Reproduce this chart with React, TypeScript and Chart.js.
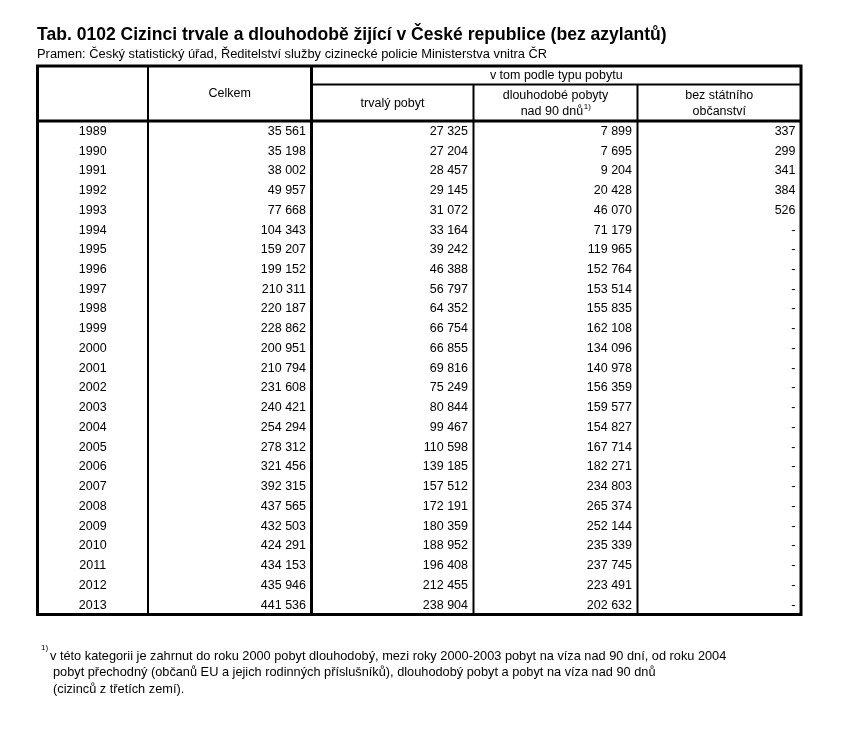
import React, { useEffect, useRef } from "react";
import { Chart, registerables } from "chart.js";

Chart.register(...registerables);

// ---------- DATA ----------
const TITLE = "Tab. 0102 Cizinci trvale a dlouhodobě žijící v České republice (bez azylantů)";
const SUBTITLE = "Pramen: Český statistický úřad, Ředitelství služby cizinecké policie Ministerstva vnitra ČR";

const YEARS = [
  "1989", "1990", "1991", "1992", "1993", "1994", "1995", "1996", "1997", "1998",
  "1999", "2000", "2001", "2002", "2003", "2004", "2005", "2006", "2007", "2008",
  "2009", "2010", "2011", "2012", "2013",
];

const CELKEM = [
  35561, 35198, 38002, 49957, 77668, 104343, 159207, 199152, 210311, 220187,
  228862, 200951, 210794, 231608, 240421, 254294, 278312, 321456, 392315, 437565,
  432503, 424291, 434153, 435946, 441536,
];

const TRVALY_POBYT = [
  27325, 27204, 28457, 29145, 31072, 33164, 39242, 46388, 56797, 64352,
  66754, 66855, 69816, 75249, 80844, 99467, 110598, 139185, 157512, 172191,
  180359, 188952, 196408, 212455, 238904,
];

const DLOUHODOBE_POBYTY = [
  7899, 7695, 9204, 20428, 46070, 71179, 119965, 152764, 153514, 155835,
  162108, 134096, 140978, 156359, 159577, 154827, 167714, 182271, 234803, 265374,
  252144, 235339, 237745, 223491, 202632,
];

const BEZ_STATNIHO_OBCANSTVI: (number | null)[] = [
  337, 299, 341, 384, 526, null, null, null, null, null,
  null, null, null, null, null, null, null, null, null, null,
  null, null, null, null, null,
];

const HEADER_TOTAL = "Celkem";
const HEADER_GROUP = "v tom podle typu pobytu";
const HEADER_TRVALY = ["trvalý pobyt"];
const HEADER_DLOUHODOBE = ["dlouhodobé pobyty", "nad 90 dnů"];
const HEADER_BEZ = ["bez státního", "občanství"];
const NOTE_MARK = "1)";

const FOOTNOTE = [
  "v této kategorii je zahrnut do roku 2000 pobyt dlouhodobý, mezi roky 2000-2003 pobyt na víza nad 90 dní, od roku 2004",
  "pobyt přechodný (občanů EU a jejich rodinných příslušníků), dlouhodobý pobyt a pobyt na víza nad 90 dnů",
  "(cizinců z třetích zemí).",
];

// ---------- LAYOUT ----------
const W = 847;
const H = 742;
const FONT = '"Liberation Sans", Arial, Helvetica, sans-serif';
const TABLE_LEFT = 37.5;
const TABLE_RIGHT = 801;
const TABLE_TOP = 66;
const HEADER_MID_LINE = 84.5;
const BODY_TOP = 121;
const BODY_BOTTOM = 614.5;
// column edges in table units (0 = left border)
const COL_EDGES = [0, 110.5, 274, 436, 600, 763.5];
const CELL_PAD = 5.5;

const fmt = (v: number | null) =>
  v === null ? "-" : String(v).replace(/\B(?=(\d{3})+(?!\d))/g, " ");

const tablePlugin = {
  id: "tablePlugin",
  afterDraw(chart: any) {
    const ctx: CanvasRenderingContext2D = chart.ctx;
    const xs = chart.scales.x;
    const { top, bottom } = chart.chartArea;
    const ex = COL_EDGES.map((e) => xs.getPixelForValue(e));
    const L = ex[0];
    const R = ex[ex.length - 1];
    ctx.save();
    ctx.fillStyle = "#000";
    ctx.strokeStyle = "#000";

    const fitFont = (text: string, weight: string, target: number) => {
      ctx.font = `${weight} 20px ${FONT}`;
      const w = ctx.measureText(text).width;
      return (20 * target) / w;
    };

    // title & subtitle
    ctx.textAlign = "left";
    ctx.textBaseline = "alphabetic";
    const ts = fitFont(TITLE, "bold", 630);
    ctx.font = `bold ${ts}px ${FONT}`;
    ctx.fillText(TITLE, 37, 39.5);
    const ss = fitFont(SUBTITLE, "normal", 511);
    ctx.font = `${ss}px ${FONT}`;
    ctx.fillText(SUBTITLE, 37, 57.5);

    // lines
    const line = (x1: number, y1: number, x2: number, y2: number, w: number) => {
      ctx.lineWidth = w;
      ctx.beginPath();
      ctx.moveTo(x1, y1);
      ctx.lineTo(x2, y2);
      ctx.stroke();
    };
    // header lines
    line(ex[2], HEADER_MID_LINE, R, HEADER_MID_LINE, 2);
    line(L, top, R, top, 3);
    // column separators
    line(ex[1], TABLE_TOP, ex[1], bottom, 2);
    line(ex[2], TABLE_TOP, ex[2], bottom, 3);
    line(ex[3], HEADER_MID_LINE, ex[3], bottom, 2);
    line(ex[4], HEADER_MID_LINE, ex[4], bottom, 2);
    // outer border
    ctx.lineWidth = 3;
    ctx.strokeRect(L, TABLE_TOP, R - L, bottom - TABLE_TOP);

    // header text
    const fs = 12.5;
    ctx.font = `${fs}px ${FONT}`;
    ctx.textAlign = "center";
    ctx.textBaseline = "middle";
    const mid = (a: number, b: number) => (a + b) / 2;
    ctx.fillText(HEADER_TOTAL, mid(ex[1], ex[2]), mid(TABLE_TOP, top) + 0.5);
    ctx.fillText(HEADER_GROUP, mid(ex[2], R), mid(TABLE_TOP, HEADER_MID_LINE) + 0.5);
    const h2 = mid(HEADER_MID_LINE, top);
    ctx.fillText(HEADER_TRVALY[0], mid(ex[2], ex[3]), h2 + 1);
    ctx.fillText(HEADER_DLOUHODOBE[0], mid(ex[3], ex[4]), h2 - 7.5);
    {
      const main = HEADER_DLOUHODOBE[1];
      ctx.font = `${fs}px ${FONT}`;
      const mw = ctx.measureText(main).width;
      ctx.font = `8px ${FONT}`;
      const sw = ctx.measureText(NOTE_MARK).width;
      const x0 = mid(ex[3], ex[4]) - (mw + sw) / 2;
      ctx.textAlign = "left";
      ctx.font = `${fs}px ${FONT}`;
      ctx.fillText(main, x0, h2 + 8.5);
      ctx.font = `8px ${FONT}`;
      ctx.fillText(NOTE_MARK, x0 + mw + 0.5, h2 + 4);
      ctx.textAlign = "center";
      ctx.font = `${fs}px ${FONT}`;
    }
    ctx.fillText(HEADER_BEZ[0], mid(ex[4], R), h2 - 7.5);
    ctx.fillText(HEADER_BEZ[1], mid(ex[4], R), h2 + 8.5);

    // body cells from dataset elements
    chart.data.datasets.forEach((ds: any, di: number) => {
      const meta = chart.getDatasetMeta(di);
      ctx.textAlign = ds.align;
      ctx.textBaseline = "middle";
      ctx.font = `${fs}px ${FONT}`;
      meta.data.forEach((el: any, i: number) => {
        ctx.fillText(ds.texts[i], el.x, el.y + 0.5);
      });
    });

    // footnote
    ctx.textAlign = "left";
    ctx.textBaseline = "middle";
    ctx.font = `8px ${FONT}`;
    ctx.fillText(NOTE_MARK, 41, 648);
    const fns = fitFont(FOOTNOTE[0], "normal", 677);
    ctx.font = `${fns}px ${FONT}`;
    ctx.fillText(FOOTNOTE[0], 50, 656);
    ctx.fillText(FOOTNOTE[1], 53, 672.5);
    ctx.fillText(FOOTNOTE[2], 53, 689);
    ctx.restore();
  },
};

export default function App() {
  const ref = useRef<HTMLCanvasElement>(null);
  useEffect(() => {
    if (!ref.current) return;
    const numCol = (values: (number | null)[], col: number) => ({
      data: YEARS.map((y) => ({ x: COL_EDGES[col + 1] - CELL_PAD, y })),
      texts: values.map(fmt),
      align: "right",
      pointRadius: 0,
      showLine: false,
    });
    const chart = new Chart(ref.current, {
      type: "scatter",
      data: {
        datasets: [
          {
            data: YEARS.map((y) => ({ x: (COL_EDGES[0] + COL_EDGES[1]) / 2, y })),
            texts: YEARS,
            align: "center",
            pointRadius: 0,
            showLine: false,
          } as any,
          numCol(CELKEM, 1) as any,
          numCol(TRVALY_POBYT, 2) as any,
          numCol(DLOUHODOBE_POBYTY, 3) as any,
          numCol(BEZ_STATNIHO_OBCANSTVI, 4) as any,
        ],
      },
      options: {
        responsive: false,
        animation: false,
        devicePixelRatio: 1,
        events: [],
        layout: {
          padding: {
            left: TABLE_LEFT,
            right: W - TABLE_RIGHT,
            top: BODY_TOP,
            bottom: H - BODY_BOTTOM,
          },
        },
        plugins: { legend: { display: false }, tooltip: { enabled: false }, title: { display: false } },
        scales: {
          x: { type: "linear", min: COL_EDGES[0], max: COL_EDGES[COL_EDGES.length - 1], display: false },
          y: { type: "category", labels: YEARS, offset: true, display: false },
        },
      },
      plugins: [tablePlugin],
    });
    return () => chart.destroy();
  }, []);
  return (
    <div style={{ position: "absolute", left: 0, top: 0, width: W, height: H, background: "#fff" }}>
      <canvas ref={ref} width={W} height={H} style={{ display: "block", width: W, height: H }} />
    </div>
  );
}
